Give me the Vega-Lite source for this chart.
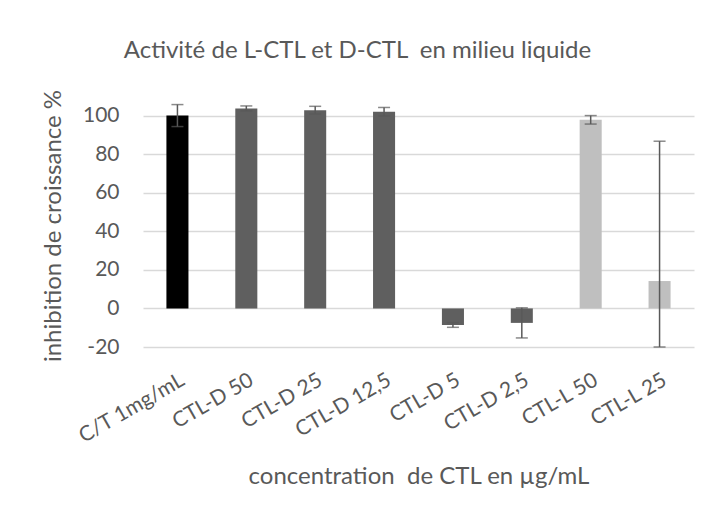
{
  "$schema": "https://vega.github.io/schema/vega-lite/v6.json",
  "width": 551,
  "height": 243,
  "autosize": "none",
  "padding": {"left": 143, "top": 104, "right": 18, "bottom": 168},
  "background": "white",
  "title": {
    "text": "Activité de L-CTL et D-CTL \u00a0en milieu liquide",
    "font": "Lato",
    "fontSize": 24,
    "fontWeight": "normal",
    "color": "#595959",
    "anchor": "middle",
    "frame": "group",
    "dx": -61,
    "offset": 26
  },
  "data": {
    "values": [
      {"label": "C/T 1mg/mL", "group": "C", "value": 100, "err": 5.7},
      {"label": "CTL-D 50", "group": "D", "value": 103.7, "err": 1.3},
      {"label": "CTL-D 25", "group": "D", "value": 102.8, "err": 2.0},
      {"label": "CTL-D 12,5", "group": "D", "value": 102.0, "err": 2.2},
      {"label": "CTL-D 5", "group": "D", "value": -8.6, "err": 1.2},
      {"label": "CTL-D 2,5", "group": "D", "value": -7.5, "err": 7.8},
      {"label": "CTL-L 50", "group": "L", "value": 97.8, "err": 2.2},
      {"label": "CTL-L 25", "group": "L", "value": 14.2, "err": 72.5}
    ]
  },
  "encoding": {
    "x": {
      "field": "label",
      "type": "nominal",
      "sort": null,
      "scale": {"paddingInner": 0.68, "paddingOuter": 0.34},
      "axis": {
        "title": "concentration \u00a0de CTL en µg/mL",
        "titleFont": "Lato",
        "titleFontSize": 24,
        "titleFontWeight": "normal",
        "titleColor": "#595959",
        "titlePadding": 18,
        "labelAngle": -30,
        "labelAlign": "right",
        "labelBaseline": "top",
        "labelFont": "Lato",
        "labelFontSize": 21,
        "labelColor": "#595959",
        "labelPadding": 22,
        "labelOverlap": false,
        "domain": false,
        "ticks": false,
        "grid": false
      }
    }
  },
  "layer": [
    {
      "mark": {"type": "bar"},
      "encoding": {
        "y": {
          "field": "value",
          "type": "quantitative",
          "title": "inhibition de croissance %",
          "scale": {"domain": [-20, 106], "clamp": true, "nice": false, "zero": false},
          "axis": {
            "titleFont": "Lato",
            "titleFontSize": 24,
            "titleFontWeight": "normal",
            "titleColor": "#595959",
            "titlePadding": 17,
            "values": [-20, 0, 20, 40, 60, 80, 100],
            "labelExpr": "replace(datum.label, '\u2212', '-')",
            "labelFont": "Lato",
            "labelFontSize": 21,
            "labelColor": "#595959",
            "labelPadding": 24,
            "domain": false,
            "ticks": false,
            "grid": true,
            "gridColor": "#d9d9d9",
            "gridWidth": 1.5
          }
        },
        "color": {
          "field": "group",
          "type": "nominal",
          "scale": {"domain": ["C", "D", "L"], "range": ["#000000", "#5f5f5f", "#bfbfbf"]},
          "legend": null
        }
      }
    },
    {
      "mark": {
        "type": "errorbar",
        "ticks": {"size": 12, "thickness": 1.5, "color": "#595959"},
        "rule": {"strokeWidth": 1.5, "color": "#595959"}
      },
      "encoding": {
        "y": {"field": "value", "type": "quantitative", "title": "inhibition de croissance %"},
        "yError": {"field": "err"}
      }
    }
  ],
  "config": {"view": {"stroke": null}}
}
